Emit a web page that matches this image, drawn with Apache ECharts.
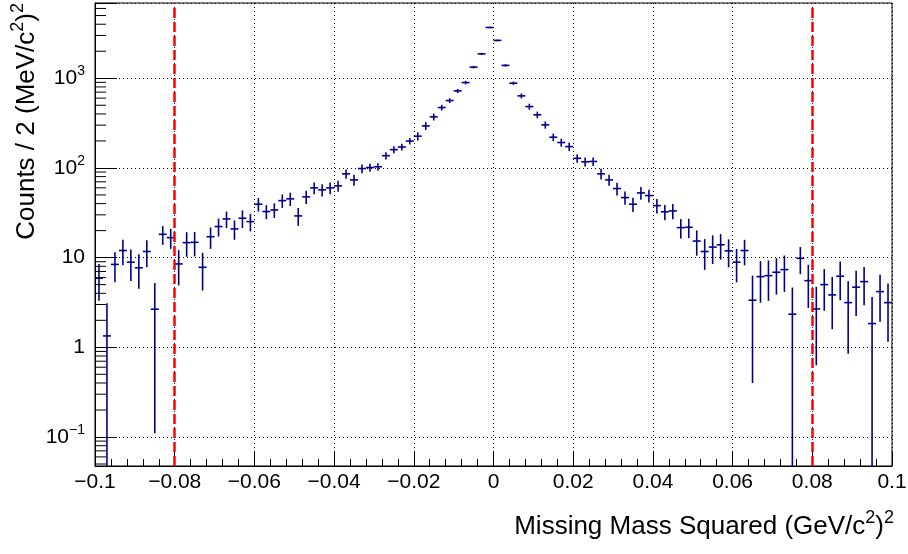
<!DOCTYPE html>
<html><head><meta charset="utf-8">
<script src="https://cdn.jsdelivr.net/npm/echarts@6/dist/echarts.min.js"></script>
<style>html,body{margin:0;padding:0;background:#fff}#c{width:908px;height:554px}</style>
</head><body><div id="c"></div>
<script>
// Bin centres (GeV/c^2)^2, bin width 0.002
const binCenters = [
 -0.099,-0.097,-0.095,-0.093,-0.091,-0.089,-0.087,-0.085,-0.083,-0.081,
 -0.079,-0.077,-0.075,-0.073,-0.071,-0.069,-0.067,-0.065,-0.063,-0.061,
 -0.059,-0.057,-0.055,-0.053,-0.051,-0.049,-0.047,-0.045,-0.043,-0.041,
 -0.039,-0.037,-0.035,-0.033,-0.031,-0.029,-0.027,-0.025,-0.023,-0.021,
 -0.019,-0.017,-0.015,-0.013,-0.011,-0.009,-0.007,-0.005,-0.003,-0.001,
  0.001, 0.003, 0.005, 0.007, 0.009, 0.011, 0.013, 0.015, 0.017, 0.019,
  0.021, 0.023, 0.025, 0.027, 0.029, 0.031, 0.033, 0.035, 0.037, 0.039,
  0.041, 0.043, 0.045, 0.047, 0.049, 0.051, 0.053, 0.055, 0.057, 0.059,
  0.061, 0.063, 0.065, 0.067, 0.069, 0.071, 0.073, 0.075, 0.077, 0.079,
  0.081, 0.083, 0.085, 0.087, 0.089, 0.091, 0.093, 0.095, 0.097, 0.099
];
const binWidth = 0.002;
const counts = [
 5.9, 1.34, 8.4, 12.0, 8.9, 7.7, 11.7, 2.66, 18.2, 16.7,
 8.5, 14.7, 14.8, 7.8, 17.1, 22.2, 27.0, 20.9, 27.5, 25.2,
 39.4, 32.6, 34.0, 43.2, 45.2, 29.2, 47.6, 59.9, 56.9, 59.9,
 63.1, 85.9, 73.6, 98.4, 101, 103, 137, 160, 171, 199,
 226, 294, 371, 471, 564, 723, 895, 1330, 1870, 3680,
 2640, 1390, 881, 636, 483, 391, 302, 220, 192, 173,
 128, 117, 118, 85.9, 73.6, 58.9, 46.7, 39.4, 52.7, 49.2,
 38.0, 32.4, 33.2, 21.6, 21.8, 15.3, 11.7, 13.1, 13.9, 11.9,
 8.9, 12.0, 3.35, 6.14, 6.3, 6.87, 7.35, 2.34, 9.84, 5.54,
 2.68, 5.0, 3.84, 6.2, 3.15, 4.68, 5.4, 1.84, 4.18, 3.15
];
const errors = [
 2.6, 1.76, 3.1, 3.8, 3.4, 3.2, 3.9, 2.55, 4.3, 4.2,
 3.6, 4.5, 4.5, 3.5, 4.6, 5.0, 5.6, 5.1, 6.1, 5.6,
 6.8, 5.8, 6.3, 7.4, 7.7, 6.6, 8.0, 9.0, 8.8, 9.0,
 9.0, 10, 10.5, 11, 10.5, 9.8, 12.8, 14, 15, 17,
 24, 30, 33, 35, 35, 38, 40, 45, 55, 70,
 60, 45, 36, 40, 37, 33, 28, 21, 19.6, 19,
 14, 13.3, 13, 11.8, 10.5, 9.5, 7.8, 7.2, 8.5, 8,
 7, 6.3, 6.5, 5.3, 5.3, 4.8, 4.4, 4.6, 4.4, 4.1,
 3.6, 3.8, 2.95, 3.0, 3.0, 3.0, 3.2, 2.3, 3.3, 2.8,
 2.05, 2.45, 2.25, 2.85, 2.3, 2.45, 2.45, 1.80, 2.25, 2.0
];
const cutLines = [-0.08, 0.08];
const xTickLabels = ['−0.1','−0.08','−0.06','−0.04','−0.02','0','0.02','0.04','0.06','0.08','0.1'];
const yMinorTicks = [0.05,0.06,0.07,0.08,0.09,0.2,0.3,0.4,0.5,0.6,0.7,0.8,0.9,
  2,3,4,5,6,7,8,9,20,30,40,50,60,70,80,90,200,300,400,500,600,700,800,900,
  2000,3000,4000,5000,6000];
const xTitle = 'Missing Mass Squared (GeV/c{sup|2}){sup|2}';
const yTitle = 'Counts / 2 (MeV/c{sup|2}){sup|2}';

const X_MIN = -0.1, X_MAX = 0.1, Y_MIN = 0.0475, Y_MAX = 6900;
const COLOR = '#00008b';
const FONT = 'Liberation Sans';

const histData = binCenters.map((x, i) => [x, counts[i], errors[i]]);
const supStyle = {fontFamily: FONT, fontSize: 18, lineHeight: 18, verticalAlign: 'top', color: '#000'};

const chart = echarts.init(document.getElementById('c'), null, {renderer: 'canvas'});
chart.setOption({
  animation: false,
  backgroundColor: '#fff',
  title: {
    text: xTitle, right: 14, top: 509, padding: 0,
    textStyle: {fontFamily: FONT, fontSize: 26, fontWeight: 'normal', color: '#000', lineHeight: 36,
      rich: {sup: supStyle}}
  },
  grid: {left: 95, right: 16, top: 3, bottom: 88, show: true, borderColor: '#000', borderWidth: 1, outerBoundsMode: 'none'},
  xAxis: {
    type: 'value', min: X_MIN, max: X_MAX, interval: 0.02,
    axisLine: {show: true, onZero: false, lineStyle: {color: '#000', width: 1}},
    axisTick: {show: true, inside: true, length: 14, lineStyle: {color: '#000'}},
    minorTick: {show: true, splitNumber: 5, length: 7, lineStyle: {color: '#000'}},
    splitLine: {show: true, lineStyle: {color: '#000', type: [1, 3], width: 1}},
    axisLabel: {fontFamily: FONT, fontSize: 21, color: '#000', margin: 6,
      formatter: v => {
        const idx = Math.round((v - X_MIN) / 0.02);
        return xTickLabels[idx] !== undefined ? xTickLabels[idx] : '';
      }}
  },
  yAxis: {
    type: 'log', logBase: 10, min: Y_MIN, max: Y_MAX,
    name: yTitle,
    nameLocation: 'end', nameGap: 0, nameRotate: 90, nameMoveOverlap: false,
    nameTextStyle: {fontFamily: FONT, fontSize: 26, color: '#000', align: 'right', verticalAlign: 'bottom',
      lineHeight: 36, padding: [0, 0, 50, 0],
      rich: {sup: supStyle}},
    axisLine: {show: true, onZero: false, lineStyle: {color: '#000', width: 1}},
    axisTick: {show: true, inside: true, length: 22, lineStyle: {color: '#000'}},
    splitLine: {show: true, lineStyle: {color: '#000', type: [1, 3], width: 1}},
    axisLabel: {fontFamily: FONT, fontSize: 21, color: '#000', margin: 10, lineHeight: 28,
      rich: {sup: {fontFamily: FONT, fontSize: 14, lineHeight: 14, verticalAlign: 'top', color: '#000'}},
      formatter: v => {
        const l = Math.log10(v), r = Math.round(l);
        if (Math.abs(l - r) > 1e-6) return '';
        if (r === 0) return '1';
        if (r === 1) return '10';
        return '10{sup|' + (r < 0 ? '−' + (-r) : r) + '}';
      }}
  },
  series: [
    {
      type: 'custom',
      data: yMinorTicks.map(v => [X_MIN, v]),
      silent: true,
      renderItem: (params, api) => {
        const p = api.coord([api.value(0), api.value(1)]);
        return {type: 'line', shape: {x1: p[0], y1: p[1], x2: p[0] + 11, y2: p[1]},
          style: {stroke: '#000', lineWidth: 1}};
      },
      z: 3
    },
    {
      type: 'custom',
      data: histData,
      silent: true,
      renderItem: (params, api) => {
        const x = api.value(0), y = api.value(1), e = api.value(2);
        const half = binWidth / 2;
        const lo = Math.max(y - e, Y_MIN);
        const hi = Math.min(y + e, Y_MAX);
        const pL = api.coord([x - half, y]), pR = api.coord([x + half, y]);
        const pT = api.coord([x, hi]), pB = api.coord([x, lo]);
        const st = {stroke: COLOR, lineWidth: 1.6};
        return {type: 'group', children: [
          {type: 'line', shape: {x1: pL[0], y1: pL[1], x2: pR[0], y2: pR[1]}, style: st},
          {type: 'line', shape: {x1: pT[0], y1: pT[1], x2: pB[0], y2: pB[1]}, style: st}
        ]};
      },
      z: 4
    },
    {
      type: 'line', data: [], silent: true,
      markLine: {
        silent: true, symbol: ['none', 'none'], label: {show: false},
        lineStyle: {color: '#ff0000', width: 2.5, type: [10, 4]},
        data: cutLines.map(c => ({xAxis: c}))
      },
      z: 5
    }
  ]
});
</script>
</body></html>
